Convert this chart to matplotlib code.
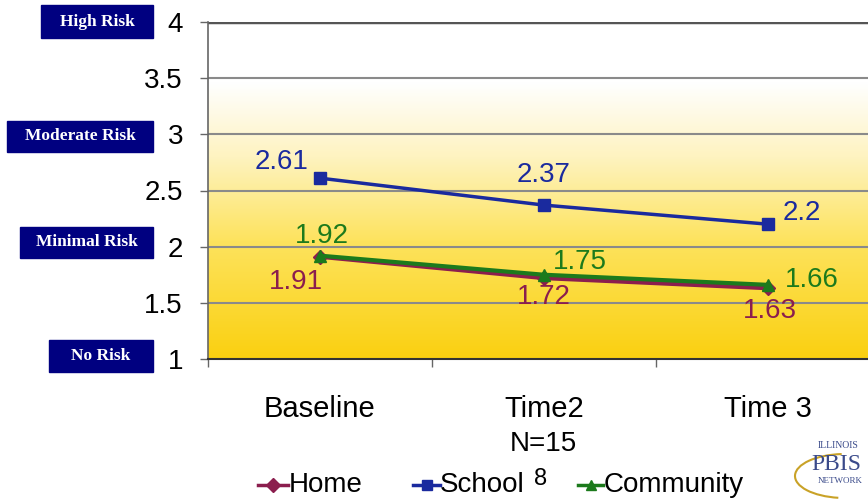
import numpy as np
import matplotlib
matplotlib.use("Agg")
import matplotlib.pyplot as plt
from matplotlib.colors import LinearSegmentedColormap
from matplotlib.lines import Line2D
from matplotlib.patches import Rectangle, Arc

plt.rcParams['font.family'] = ['Liberation Sans', 'DejaVu Sans']

# data
periods = ['Baseline', 'Time2', 'Time 3']
home = [1.91, 1.72, 1.63]
school = [2.61, 2.37, 2.2]
community = [1.92, 1.75, 1.66]
risk_levels = ['High Risk', 'Moderate Risk', 'Minimal Risk', 'No Risk']

c_home = '#8B1E4E'
c_school = '#1A2A9E'
c_comm = '#1C7A1C'
navy = '#000080'
fs = 20

fig = plt.figure(figsize=(8.68, 5), dpi=100)
ax = fig.add_axes([208/868, 1-359/500, 1-208/868, 337/500])

x = np.arange(len(periods))
ax.set_xlim(-0.5, (868-320)/224)
ax.set_ylim(1, 4)

# gradient background white -> gold
cmap = LinearSegmentedColormap.from_list('bg', [(0, '#FAD010'), (0.35, '#FDE35E'),
                                                 (0.6, '#FEF3C0'), (0.82, '#FFFFFF'), (1, '#FFFFFF')])
grad = np.linspace(0, 1, 256).reshape(-1, 1)
ax.imshow(grad, extent=[-0.5, 2.5, 1, 4], origin='lower', aspect='auto', cmap=cmap, zorder=0)

# grid lines
for v in [1.5, 2, 2.5, 3, 3.5]:
    ax.axhline(v, color='#8a8a8a', lw=1.5, zorder=1)
ax.axhline(4, color='#555555', lw=2.5, zorder=1)

ax.plot(x, home, color=c_home, marker='D', ms=7, lw=3, zorder=3)
ax.plot(x, community, color=c_comm, marker='^', ms=8, lw=3, zorder=4)
ax.plot(x, school, color=c_school, marker='s', ms=8, lw=2.5, zorder=5)

# data labels
lab_pos_school = [(-0.17, 2.753), (1.0, 2.638), (2.15, 2.30)]
lab_pos_comm = [(0.01, 2.094), (1.16, 1.863), (2.196, 1.703)]
lab_pos_home = [(-0.107, 1.685), (1.0, 1.551), (2.01, 1.427)]
for vals, pos, c in [(school, lab_pos_school, c_school), (community, lab_pos_comm, c_comm),
                     (home, lab_pos_home, c_home)]:
    for v, (px, py) in zip(vals, pos):
        ax.text(px, py, f'{v:g}', color=c, fontsize=fs, ha='center', va='center', zorder=6)

ax.set_yticks([1, 1.5, 2, 2.5, 3, 3.5, 4])
ax.set_yticklabels(['1', '1.5', '2', '2.5', '3', '3.5', '4'])
ax.set_xticks(x)
ax.set_xticklabels(periods)
ax.set_xticks([-0.5, 0.5, 1.5], minor=True)
ax.tick_params(axis='x', which='major', length=0, pad=26, labelsize=21)
ax.tick_params(axis='x', which='minor', length=6, color='#666666', width=1)
ax.tick_params(axis='y', length=6, color='#666666', width=1, pad=12, labelsize=fs)

for s in ['top', 'right']:
    ax.spines[s].set_visible(False)
ax.spines['left'].set_color('#666666')
ax.spines['left'].set_linewidth(1.2)
ax.spines['bottom'].set_color('#333333')
ax.spines['bottom'].set_linewidth(1.5)

# risk boxes
boxes = [(41, 5, 153, 38), (7, 121, 153, 152), (20, 227, 153, 258), (49, 340, 153, 372)]
for name, (x0, y0, x1, y1) in zip(risk_levels, boxes):
    fig.patches.append(Rectangle((x0/868, 1-y1/500), (x1-x0)/868, (y1-y0)/500,
                                 transform=fig.transFigure, color=navy, zorder=1))
    fig.text((x0+x1)/2/868, 1-(y0+y1)/2/500, name, color='white', fontsize=12.5,
             fontweight='bold', family='Liberation Serif', ha='center', va='center')

fig.text(543/868, 1-444/500, 'N=15', fontsize=fs, ha='center', va='center')

# legend drawn by hand: (line start, line end, text start) in pixels
legend_items = [('Home', c_home, 'D', 258, 288, 289),
                ('School', c_school, 's', 413, 440, 440),
                ('Community', c_comm, '^', 578, 603, 604)]
ly = 1 - 485/500
for name, c, m, xa, xb, xt in legend_items:
    fig.lines.append(Line2D([xa/868, xb/868], [ly, ly], transform=fig.transFigure,
                            color=c, lw=2.5))
    fig.lines.append(Line2D([(xa+xb)/2/868], [ly], transform=fig.transFigure,
                            color=c, marker=m, ms=7, lw=0))
    fig.text(xt/868, ly, name, fontsize=fs, ha='left', va='center')
fig.text(541/868, 1-479/500, '8', fontsize=17, ha='center', va='center')

# logo approximation
fig.text(838/868, 1-446/500, 'ILLINOIS', family='Liberation Serif', fontsize=7,
         color='#3a4a8a', ha='center', va='center')
fig.text(836/868, 1-464/500, 'PBIS', family='Liberation Serif', fontsize=17,
         color='#3a4a8a', ha='center', va='center')
fig.text(840/868, 1-481/500, 'NETWORK', family='Liberation Serif', fontsize=6.5,
         color='#3a4a8a', ha='center', va='center')
fig.patches.append(Arc((845/868, 1-476/500), 100/868, 44/500, theta1=95, theta2=260,
                       transform=fig.transFigure, color='#c9a227', lw=1.5))

fig.savefig('out.png', dpi=100, facecolor='white')
